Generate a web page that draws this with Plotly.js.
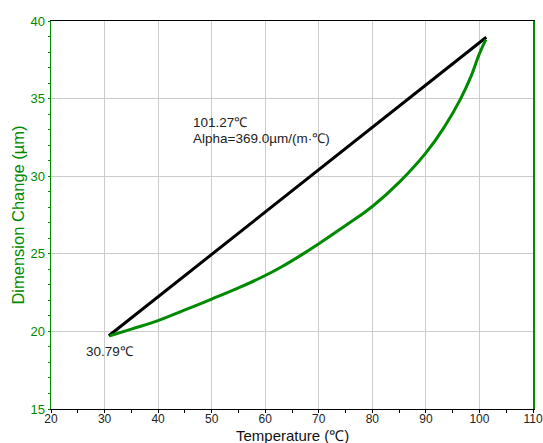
<!DOCTYPE html>
<html>
<head>
<meta charset="utf-8">
<script src="https://cdn.plot.ly/plotly-3.0.1.min.js"></script>
<style>html,body{margin:0;padding:0;background:#fff;}#chart{width:543px;height:443px;}</style>
</head>
<body>
<div id="chart"></div>
<script>
// Green curve (measured dimension change vs temperature)
const curveTemp = [31.0, 35.0, 40.0, 45.0, 50.0, 55.0, 60.0, 63.0, 67.0, 70.0, 75.0, 80.0, 85.0, 90.0, 93.5, 96.5, 98.5, 100.0, 101.2];
const curveDim  = [19.72, 20.15, 20.70, 21.38, 22.08, 22.80, 23.60, 24.15, 24.98, 25.65, 26.82, 28.05, 29.60, 31.50, 33.20, 35.00, 36.50, 37.90, 38.80];
// Black straight line (secant between endpoints)
const lineTemp = [30.79, 101.27];
const lineDim  = [19.72, 38.95];
// Axis ticks
const xTicks = [20, 30, 40, 50, 60, 70, 80, 90, 100, 110];
const yTicks = [15, 20, 25, 30, 35, 40];
// Labels
const xTitle = "Temperature (℃)";
const yTitle = "Dimension Change (µm)";
const startLabel = "30.79℃";
const endLabel = "101.27℃";
const alphaLabel = "Alpha=369.0µm/(m·℃)";

const green = "#008a00";
const font = "Liberation Sans, Arial, sans-serif";

const traces = [
  {x: lineTemp, y: lineDim, mode: "lines", line: {color: "#000000", width: 3}, hoverinfo: "skip"},
  {x: curveTemp, y: curveDim, mode: "lines", line: {color: green, width: 3, shape: "spline", smoothing: 1.3}, hoverinfo: "skip"}
];

const layout = {
  width: 543, height: 443,
  margin: {l: 51, r: 10, t: 21, b: 34},
  paper_bgcolor: "#ffffff", plot_bgcolor: "#ffffff",
  showlegend: false,
  font: {family: font, size: 13, color: "#222"},
  xaxis: {
    range: [20, 110], tickvals: xTicks, ticktext: xTicks.map(String),
    showgrid: true, gridcolor: "#cccccc", gridwidth: 1,
    showline: true, linecolor: "#000000", linewidth: 1, mirror: true,
    ticks: "outside", ticklen: 3, tickcolor: "#000",
    tickfont: {family: font, size: 12, color: "#222"},
    ticklabelstandoff: -4, ticklabeloverflow: "allow",
    minor: {dtick: 5, ticks: "outside", ticklen: 3, tickcolor: "#000", showgrid: false},
    zeroline: false
  },
  yaxis: {
    range: [15, 40], tickvals: yTicks, ticktext: yTicks.map(String),
    showgrid: true, gridcolor: "#cccccc", gridwidth: 1,
    showline: true, linecolor: green, linewidth: 1.5, mirror: true,
    ticks: "outside", ticklen: 2, tickcolor: green, tickfont: {family: font, size: 13, color: green},
    ticklabeloverflow: "allow",
    minor: {dtick: 1, ticks: "outside", ticklen: 2, tickcolor: green, showgrid: false},
    zeroline: false,
    title: {text: yTitle, font: {family: font, size: 16.5, color: green}, standoff: 1}
  },
  annotations: [
    {x: 0.5, y: -0.0695, xref: "paper", yref: "paper", text: xTitle, showarrow: false, xanchor: "center", yanchor: "middle", font: {family: font, size: 15, color: "#111"}},
    {x: 46.2, y: 33.49, xref: "x", yref: "y", text: endLabel, showarrow: false, xanchor: "left", yanchor: "middle", font: {family: font, size: 13.5, color: "#222"}},
    {x: 46.2, y: 32.40, xref: "x", yref: "y", text: alphaLabel, showarrow: false, xanchor: "left", yanchor: "middle", font: {family: font, size: 13.5, color: "#222"}},
    {x: 26.2, y: 18.69, xref: "x", yref: "y", text: startLabel, showarrow: false, xanchor: "left", yanchor: "middle", font: {family: font, size: 13.5, color: "#222"}}
  ]
};

Plotly.newPlot("chart", traces, layout, {staticPlot: true, displayModeBar: false});
</script>
</body>
</html>
